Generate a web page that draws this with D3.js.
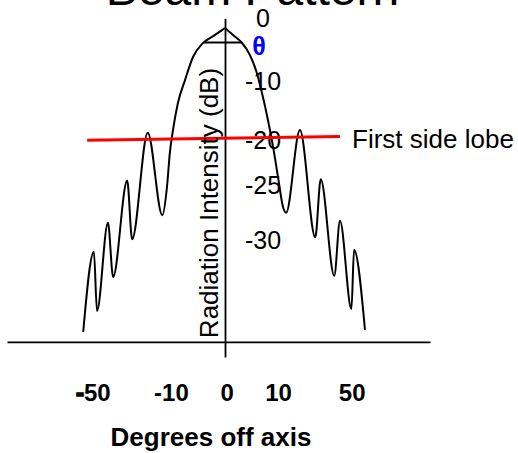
<!DOCTYPE html>
<html>
<head>
<meta charset="utf-8">
<script src="https://cdn.jsdelivr.net/npm/d3@7"></script>
<style>
body { margin: 0; background: #fff; }
text { font-family: "Liberation Sans", Arial, sans-serif; }
</style>
</head>
<body>
<script>
//Declare consts
const width = 518;
const height = 453;

//Beam pattern: degrees off axis and intensity (dB)
const beamDeg = [-54.5, -50.4, -49.2, -45.0, -43.0, -37.6, -35.7, -29.7, -24.1, -22.3, -21.2, -20.0, -18.1, -15.4, -12.3, -8.5, -4.25, 0,
                 3.2, 6.4, 9.6, 12.2, 14.6, 16.5, 18.5, 20.4, 22.3, 23.5, 28.8, 34.7, 36.8, 42.0, 44.2, 48.6, 49.6, 53.8];
const beamDb = [-48.2, -35.5, -44.9, -30.9, -39.5, -24.2, -33.5, -16.6, -29.7, -25.2, -19.8, -16.2, -11.9, -8.3, -4.6, -2.4, -1.2, 0,
                -1.15, -2.3, -4.3, -7.1, -11.0, -14.6, -18.9, -23.7, -28.4, -29.3, -16.2, -33.2, -24.0, -39.3, -30.6, -44.6, -35.2, -47.9];

//Beam width marker (theta) and first side lobe level line
const beamWidthDeg = [-8.3, 6.4];
const beamWidthDb = -2.3;
const sideLobeDeg = [-53.0, 44.2];
const sideLobeDb = [-17.8, -17.2];

//Tick labels and where they sit
const xTickLabels = ["-50", "-10", "0", "10", "50"];
const xTickAt = [-50.8, -20.8, 0.6, 20.4, 48.7];
const yTickLabels = ["0", "-10", "-20", "-25", "-30"];
const yTickAt = [1.48, -8.52, -17.9, -25.05, -33.7];

const beam = beamDeg.map((d, i) => ({deg: d, db: beamDb[i]}));

//Scales
const xScale = d3.scaleLinear()
                 .domain([-83.8, 78.8])
                 .range([7, 430]);
const yScale = d3.scaleLinear()
                 .domain([1.54, -52.2])
                 .range([18.3, 357]);

//SVG
const svg = d3.select("body")
              .append("svg")
              .attr("width", width)
              .attr("height", height);

//Title (runs off the top)
svg.append("text")
   .attr("x", 252.5)
   .attr("y", 5)
   .attr("text-anchor", "middle")
   .attr("font-size", 48)
   .text("Beam Pattern");

//Axes
const bottomAxis = d3.axisBottom(xScale)
                     .tickValues(xTickAt)
                     .tickFormat((d, i) => xTickLabels[i])
                     .tickSize(0)
                     .tickPadding(42);
const rightAxis = d3.axisRight(yScale)
                    .tickValues(yTickAt)
                    .tickFormat((d, i) => yTickLabels[i])
                    .tickSize(0)
                    .tickPadding(38);

const gx = svg.append("g")
              .attr("transform", "translate(0," + yScale(-49.8) + ")")
              .call(bottomAxis);
gx.select(".domain").attr("stroke-width", 1.8);
gx.selectAll("text")
  .attr("font-family", "'Liberation Sans', Arial, sans-serif")
  .attr("font-size", 24)
  .attr("font-weight", "bold")
  .attr("fill", "#000");
//the -50 dash is drawn heavier
gx.selectAll("text").filter((d, i) => i === 0)
  .text(null)
  .call(t => {
      t.append("tspan").attr("stroke", "#000").attr("stroke-width", 1.6).text("-");
      t.append("tspan").text("50");
  });

const gy = svg.append("g")
              .attr("transform", "translate(" + xScale(0) + ",0)")
              .call(rightAxis);
gy.select(".domain").attr("stroke-width", 1.8);
gy.selectAll("text")
  .attr("font-family", "'Liberation Sans', Arial, sans-serif")
  .attr("font-size", 25)
  .attr("fill", "#000")
  .attr("text-anchor", "middle");

//Beam curve, drawn as two halves meeting at the pointed peak
const line = d3.line()
               .x(d => xScale(d.deg))
               .y(d => yScale(d.db))
               .curve(d3.curveMonotoneX);
[beam.filter(d => d.deg <= 0), beam.filter(d => d.deg >= 0)].forEach(half => {
    svg.append("path")
       .attr("d", line(half))
       .attr("fill", "none")
       .attr("stroke", "#000")
       .attr("stroke-width", 2);
});

//Beam width marker
svg.append("line")
   .attr("x1", xScale(beamWidthDeg[0]))
   .attr("x2", xScale(beamWidthDeg[1]))
   .attr("y1", yScale(beamWidthDb))
   .attr("y2", yScale(beamWidthDb))
   .attr("stroke", "#000")
   .attr("stroke-width", 1.8);
svg.append("text")
   .attr("x", 259)
   .attr("y", 55)
   .attr("text-anchor", "middle")
   .attr("font-size", 25)
   .attr("font-weight", "bold")
   .attr("fill", "#0000ff")
   .text("θ");

//First side lobe line
svg.append("line")
   .attr("x1", xScale(sideLobeDeg[0]))
   .attr("x2", xScale(sideLobeDeg[1]))
   .attr("y1", yScale(sideLobeDb[0]))
   .attr("y2", yScale(sideLobeDb[1]))
   .attr("stroke", "#ff0000")
   .attr("stroke-width", 3);
svg.append("text")
   .attr("x", 352)
   .attr("y", 148)
   .attr("font-size", 26)
   .text("First side lobe");

//Axis titles
svg.append("text")
   .attr("transform", "translate(218,203) rotate(-90)")
   .attr("text-anchor", "middle")
   .attr("font-size", 26)
   .text("Radiation Intensity (dB)");
svg.append("text")
   .attr("x", 211)
   .attr("y", 446)
   .attr("text-anchor", "middle")
   .attr("font-size", 26)
   .attr("font-weight", "bold")
   .text("Degrees off axis");
</script>
</body>
</html>
